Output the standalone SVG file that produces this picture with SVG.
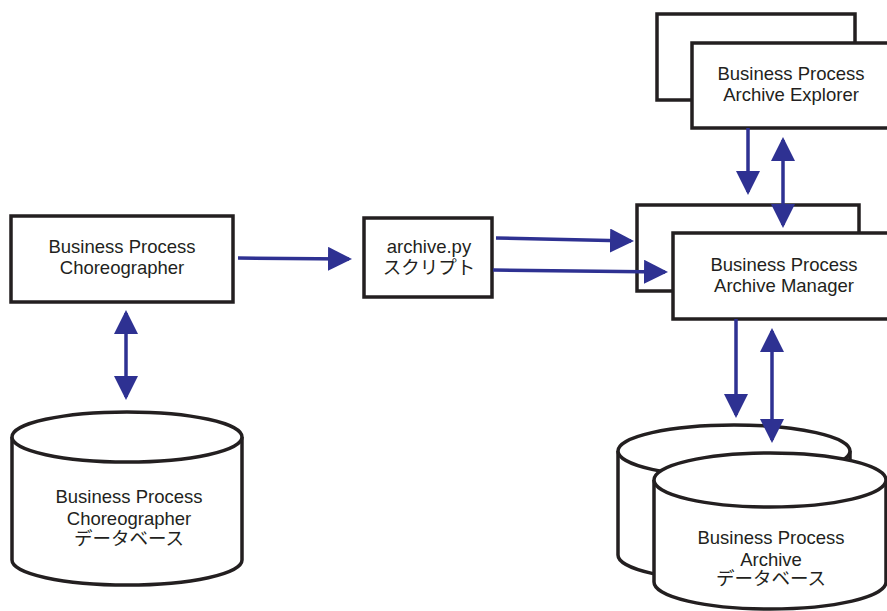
<svg xmlns="http://www.w3.org/2000/svg" width="887" height="611" viewBox="0 0 887 611">
<defs>
<style>
.box{fill:#fff;stroke:#231f20;stroke-width:3.5}
.cyl{fill:#fff;stroke:#231f20;stroke-width:3.5}
.lbl{font-family:"Liberation Sans","Noto Sans CJK JP",sans-serif;font-size:18.5px;fill:#231f20;text-anchor:middle}
.con{stroke:#2e3192;stroke-width:3.5;fill:none}
</style>
<marker id="ah" viewBox="0 0 24 24" markerWidth="24" markerHeight="24" markerUnits="userSpaceOnUse" refX="21" refY="12" orient="auto-start-reverse">
<path d="M0,0 L24,12 L0,24 z" fill="#2e3192"/>
</marker>
</defs>
<rect width="887" height="611" fill="#fff"/>

<g id="choreographer">
<rect class="box" x="11" y="216" width="222" height="86"/>
<text class="lbl" x="122" y="253">Business Process</text>
<text class="lbl" x="122" y="274">Choreographer</text>
</g>

<g id="archive-script">
<rect class="box" x="364" y="218" width="128" height="79"/>
<text class="lbl" x="429" y="253">archive.py</text>
<text class="lbl" x="429" y="274">スクリプト</text>
</g>

<g id="explorer">
<rect class="box" x="657" y="14" width="198" height="86"/>
<rect class="box" x="692" y="43" width="200" height="85"/>
<text class="lbl" x="791" y="80">Business Process</text>
<text class="lbl" x="791" y="101">Archive Explorer</text>
</g>

<g id="manager">
<rect class="box" x="637" y="205" width="222" height="86"/>
<rect class="box" x="673" y="233" width="220" height="86"/>
<text class="lbl" x="784" y="271">Business Process</text>
<text class="lbl" x="784" y="292">Archive Manager</text>
</g>

<g id="choreographer-db">
<path class="cyl" d="M12,437 A115,25 0 0 1 242,437 L242,560 A115,25 0 0 1 12,560 Z"/>
<path class="cyl" d="M12,437 A115,25 0 0 0 242,437"/>
<text class="lbl" x="129" y="503">Business Process</text>
<text class="lbl" x="129" y="525">Choreographer</text>
<text class="lbl" x="129" y="545">データベース</text>
</g>

<g id="archive-db">
<path class="cyl" d="M618,451 A116,26 0 0 1 850,451 L850,555 A116,26 0 0 1 618,555 Z"/>
<path class="cyl" d="M618,451 A116,26 0 0 0 850,451"/>
<path class="cyl" d="M654,480 A116,27 0 0 1 886,480 L886,582 A116,27 0 0 1 654,582 Z"/>
<path class="cyl" d="M654,480 A116,27 0 0 0 886,480"/>
<text class="lbl" x="771" y="544">Business Process</text>
<text class="lbl" x="771" y="566">Archive</text>
<text class="lbl" x="771" y="585">データベース</text>
</g>

<g id="connectors">
<line class="con" x1="238" y1="258" x2="349" y2="259" marker-end="url(#ah)"/>
<line class="con" x1="126" y1="313" x2="126" y2="397" marker-start="url(#ah)" marker-end="url(#ah)"/>
<line class="con" x1="496" y1="238" x2="631" y2="241" marker-end="url(#ah)"/>
<line class="con" x1="493" y1="270" x2="665" y2="272" marker-end="url(#ah)"/>
<line class="con" x1="748" y1="128" x2="748" y2="192" marker-end="url(#ah)"/>
<line class="con" x1="783" y1="140" x2="783" y2="225" marker-start="url(#ah)" marker-end="url(#ah)"/>
<line class="con" x1="736" y1="319" x2="736" y2="415" marker-end="url(#ah)"/>
<line class="con" x1="772" y1="331" x2="772" y2="440" marker-start="url(#ah)" marker-end="url(#ah)"/>
</g>
</svg>
